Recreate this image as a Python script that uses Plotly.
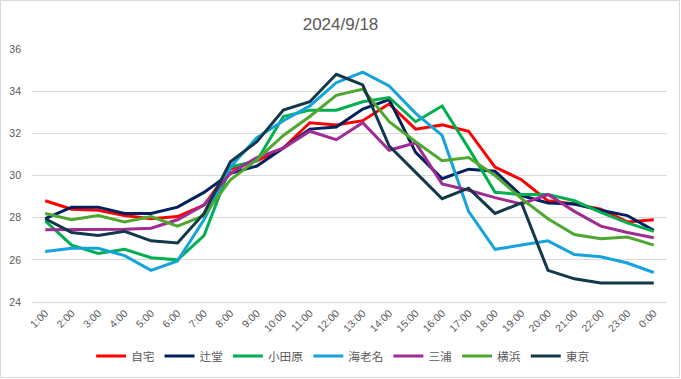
import plotly.graph_objects as go

title = "2024/9/18"
hours = ["1:00", "2:00", "3:00", "4:00", "5:00", "6:00", "7:00", "8:00", "9:00", "10:00",
         "11:00", "12:00", "13:00", "14:00", "15:00", "16:00", "17:00", "18:00", "19:00",
         "20:00", "21:00", "22:00", "23:00", "0:00"]

jitaku = [28.8, 28.4, 28.35, 28.1, 27.95, 28.05, 28.6, 30.3, 30.7, 31.3, 32.5, 32.4,
          32.6, 33.4, 32.2, 32.4, 32.1, 30.4, 29.8, 28.8, 28.65, 28.4, 27.8, 27.9]
tsujido = [27.95, 28.5, 28.5, 28.2, 28.2, 28.5, 29.2, 30.1, 30.45, 31.3, 32.2, 32.3,
           33.15, 33.6, 31.1, 29.85, 30.3, 30.2, 29.05, 28.7, 28.65, 28.35, 28.1, 27.4]
odawara = [27.85, 26.7, 26.3, 26.5, 26.1, 26.0, 27.15, 30.4, 30.7, 32.8, 33.1, 33.1,
           33.5, 33.7, 32.55, 33.3, 31.3, 29.2, 29.1, 29.1, 28.8, 28.25, 27.75, 27.35]
ebina = [26.4, 26.55, 26.55, 26.2, 25.5, 25.95, 27.9, 30.4, 31.8, 32.6, 33.3, 34.4,
         34.9, 34.25, 32.95, 31.9, 28.3, 26.5, 26.7, 26.9, 26.25, 26.15, 25.85, 25.4]
miura = [27.43, 27.43, 27.43, 27.45, 27.5, 27.9, 28.6, 30.1, 30.85, 31.3, 32.1, 31.7,
         32.5, 31.2, 31.55, 29.6, 29.3, 28.95, 28.65, 29.1, 28.3, 27.6, 27.3, 27.05]
yokohama = [28.2, 27.9, 28.1, 27.8, 28.05, 27.6, 28.1, 29.8, 30.75, 31.9, 32.8, 33.8,
            34.1, 32.55, 31.6, 30.7, 30.85, 30.0, 28.9, 27.95, 27.2, 27.0, 27.08, 26.7]
tokyo = [27.95, 27.3, 27.15, 27.35, 26.9, 26.8, 28.2, 30.65, 31.6, 33.1, 33.5, 34.8,
         34.3, 31.4, 30.15, 28.9, 29.4, 28.2, 28.7, 25.5, 25.1, 24.9, 24.9, 24.9]

series = [
    ("自宅", jitaku, "#FF0000"),
    ("辻堂", tsujido, "#002060"),
    ("小田原", odawara, "#00B050"),
    ("海老名", ebina, "#14A3DC"),
    ("三浦", miura, "#A02B93"),
    ("横浜", yokohama, "#4EA72E"),
    ("東京", tokyo, "#12384A"),
]

fig = go.Figure()
for name, vals, color in series:
    fig.add_trace(go.Scatter(x=hours, y=vals, name=name, mode="lines",
                             line=dict(color=color, width=3)))

grid = "#D9D9D9"
txt = "#595959"
W, H = 681, 379
L, R, T, B = 32, 14, 49, 77
pw, ph = W - L - R, H - T - B

fig.update_layout(
    width=W, height=H,
    margin=dict(l=L, r=R, t=T, b=B, autoexpand=False),
    paper_bgcolor="white", plot_bgcolor="white",
    title=dict(text=title, x=0.5, xanchor="center", y=1 - 24 / H, yanchor="middle",
               font=dict(family="Liberation Sans, Arial, sans-serif", size=17, color=txt)),
    font=dict(family="Liberation Sans, Arial, sans-serif", size=11, color=txt),
    xaxis=dict(type="category", range=[-0.5, 23.5], showgrid=False, showline=True,
               linecolor=grid, linewidth=1, tickangle=-45, ticks="", automargin=False,
               tickfont=dict(size=10.5, color=txt), fixedrange=True),
    yaxis=dict(range=[24, 36], dtick=2, tick0=24, showgrid=True, gridcolor=grid, gridwidth=1,
               zeroline=False, showline=False, ticks="", ticklabelstandoff=10, automargin=False,
               tickfont=dict(size=10.5, color=txt), fixedrange=True),
    legend=dict(orientation="h", x=0.49, xanchor="center", y=-54 / ph, yanchor="middle",
                font=dict(family="Noto Sans CJK JP", size=11.7, color=txt),
                itemwidth=30, tracegroupgap=0, bgcolor="rgba(0,0,0,0)"),
    showlegend=True,
)

# outer chart border
fig.add_shape(type="rect", xref="paper", yref="paper",
              x0=(0.5 - L) / pw, x1=(W - 1.5 - L) / pw,
              y0=-(B - 1.5) / ph, y1=(ph + T - 0.5) / ph,
              line=dict(color=grid, width=1), fillcolor="rgba(0,0,0,0)", layer="below")

fig.write_html("out.html", config={"displayModeBar": False},
               post_script="document.body.style.margin='0';")
